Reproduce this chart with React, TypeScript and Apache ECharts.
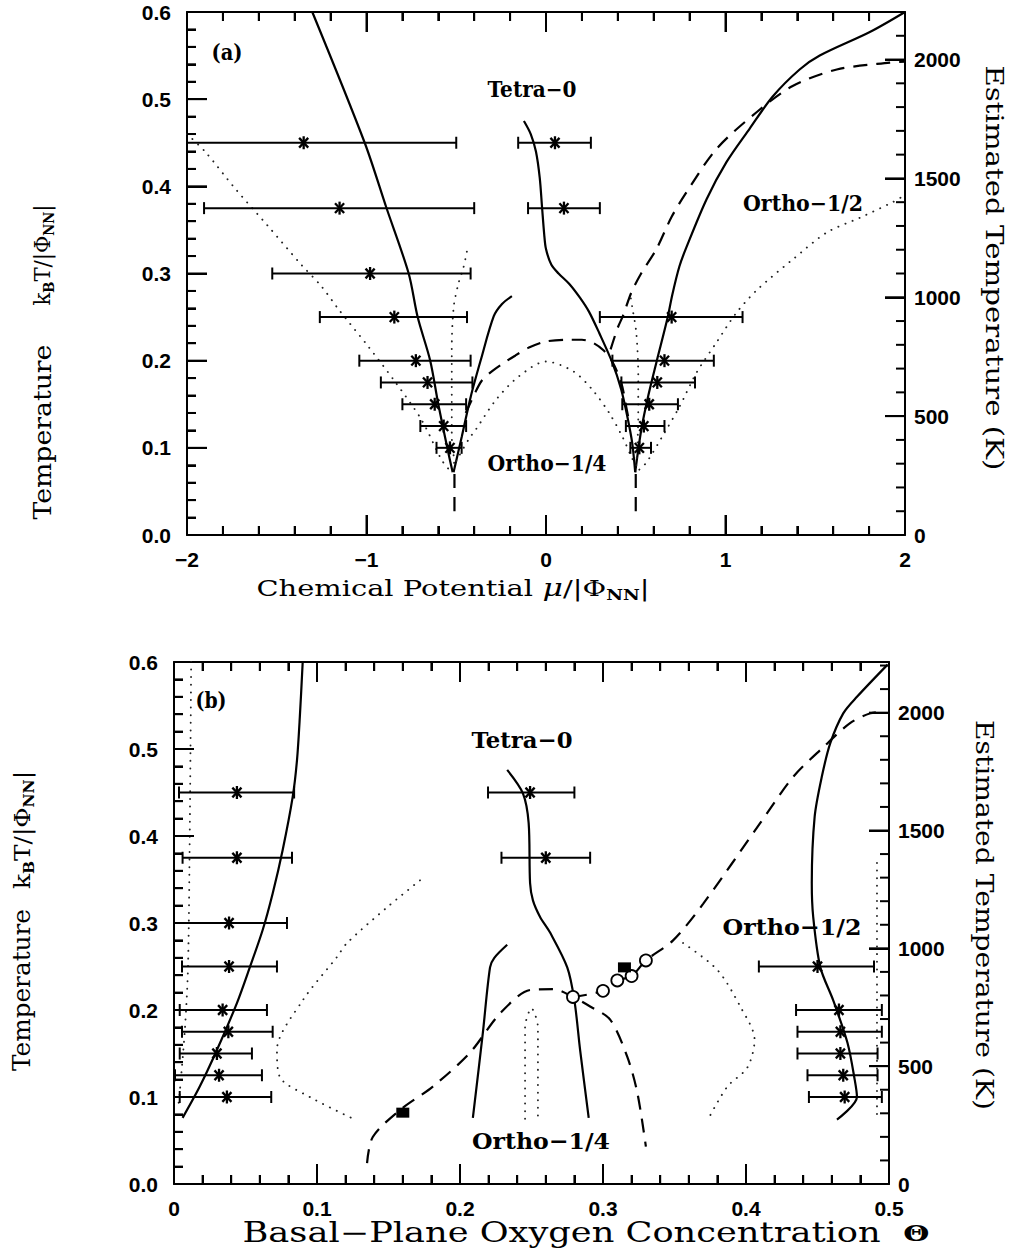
import React, { useEffect, useRef } from "react";
import * as echarts from "echarts";

// ---------------- Panel (a): x = μ/|Φ_NN|, y = k_BT/|Φ_NN| ----------------
const aXRange = [-2, 2];
const yRange = [0, 0.6];
const kelvinLabels = [0, 500, 1000, 1500, 2000];
const aKelvinMax = 2200;
const bKelvinMax = 2215;

// error bars: [y, low, centre, high]
const aErrorBars = [
  [0.45, -2.0, -1.35, -0.5],
  [0.375, -1.905, -1.15, -0.4],
  [0.3, -1.525, -0.98, -0.42],
  [0.25, -1.26, -0.845, -0.44],
  [0.2, -1.04, -0.725, -0.42],
  [0.175, -0.92, -0.66, -0.41],
  [0.15, -0.8, -0.62, -0.445],
  [0.125, -0.7, -0.57, -0.445],
  [0.1, -0.61, -0.535, -0.47],
  [0.45, -0.155, 0.05, 0.25],
  [0.375, -0.1, 0.1, 0.3],
  [0.25, 0.3, 0.7, 1.095],
  [0.2, 0.37, 0.66, 0.935],
  [0.175, 0.42, 0.62, 0.83],
  [0.15, 0.425, 0.575, 0.735],
  [0.125, 0.445, 0.545, 0.66],
  [0.1, 0.47, 0.52, 0.585],
];

const aSolidLeft = [
  [-1.302, 0.6], [-1.01, 0.45], [-0.89, 0.376], [-0.765, 0.3], [-0.715, 0.25],
  [-0.645, 0.2], [-0.6, 0.15], [-0.55, 0.1], [-0.52, 0.072],
];
const aSolidLeftBranch = [
  [-0.515, 0.072], [-0.469, 0.113], [-0.419, 0.159], [-0.363, 0.201],
  [-0.291, 0.251], [-0.245, 0.265], [-0.19, 0.274],
];
const aSolidCentre = [
  [-0.123, 0.475], [-0.085, 0.46], [-0.056, 0.44], [-0.035, 0.41], [-0.022, 0.376],
  [-0.01, 0.345], [0.0, 0.328], [0.03, 0.31], [0.07, 0.3], [0.13, 0.288],
  [0.19, 0.272], [0.24, 0.256], [0.296, 0.232], [0.369, 0.198], [0.419, 0.167],
  [0.453, 0.136], [0.48, 0.106], [0.497, 0.072],
];
const aSolidRight = [
  [0.497, 0.072], [0.531, 0.121], [0.57, 0.16], [0.615, 0.198], [0.676, 0.248],
  [0.704, 0.276], [0.743, 0.308], [0.782, 0.33], [0.894, 0.385], [1.006, 0.428],
  [1.134, 0.466], [1.263, 0.503], [1.413, 0.534], [1.525, 0.55], [1.804, 0.577], [2.0, 0.6],
];
const aDashLeftStem = [[-0.51, 0.07], [-0.51, 0.022]];
const aDashRightStem = [[0.5, 0.07], [0.5, 0.022]];
const aDashDome = [
  [-0.447, 0.14], [-0.4, 0.161], [-0.358, 0.177], [-0.3, 0.188], [-0.246, 0.196],
  [-0.17, 0.206], [-0.095, 0.215], [0.0, 0.222], [0.128, 0.224], [0.2, 0.224],
  [0.257, 0.221], [0.32, 0.212], [0.369, 0.199], [0.419, 0.175], [0.447, 0.147], [0.464, 0.129],
];
const aDashRise = [
  [0.36, 0.213], [0.4, 0.238], [0.43, 0.252], [0.475, 0.278], [0.53, 0.3],
  [0.615, 0.328], [0.7, 0.365], [0.782, 0.393], [0.95, 0.443], [1.173, 0.485],
  [1.374, 0.515], [1.62, 0.534], [1.916, 0.542], [2.0, 0.543],
];
const aDotLeftOuter = [
  [-2.0, 0.46], [-1.9, 0.44], [-1.73, 0.397], [-1.547, 0.354], [-1.363, 0.31],
  [-1.25, 0.285], [-1.156, 0.259], [-0.989, 0.216], [-0.838, 0.175], [-0.693, 0.132],
  [-0.581, 0.086], [-0.54, 0.075],
];
const aDotLeftInner = [
  [-0.441, 0.325], [-0.462, 0.305], [-0.486, 0.29], [-0.514, 0.262], [-0.525, 0.213],
  [-0.525, 0.155], [-0.525, 0.113], [-0.514, 0.09], [-0.51, 0.075],
];
const aDotDome = [
  [-0.5, 0.085], [-0.43, 0.11], [-0.391, 0.121], [-0.279, 0.155], [-0.151, 0.182],
  [0.0, 0.199], [0.15, 0.188], [0.257, 0.167], [0.352, 0.14], [0.425, 0.113],
  [0.475, 0.09], [0.5, 0.08],
];
const aDotRightInner = [
  [0.503, 0.08], [0.514, 0.136], [0.514, 0.182], [0.503, 0.232], [0.48, 0.262], [0.47, 0.275],
];
const aDotRightOuter = [
  [0.52, 0.075], [0.559, 0.083], [0.648, 0.113], [0.743, 0.147], [0.838, 0.186],
  [0.95, 0.221], [1.061, 0.255], [1.18, 0.282], [1.374, 0.316], [1.564, 0.347],
  [1.749, 0.364], [1.933, 0.382], [2.0, 0.39],
];

// ---------------- Panel (b): x = Θ, y = k_BT/|Φ_NN| ----------------
const bXRange = [0, 0.5];
const bErrorBars = [
  [0.45, 0.0035, 0.044, 0.084],
  [0.375, 0.006, 0.044, 0.0825],
  [0.3, 0.0, 0.0385, 0.079],
  [0.25, 0.0056, 0.0385, 0.072],
  [0.2, 0.004, 0.034, 0.065],
  [0.175, 0.0056, 0.038, 0.069],
  [0.15, 0.004, 0.03, 0.0545],
  [0.125, 0.0007, 0.0315, 0.0615],
  [0.1, 0.004, 0.037, 0.068],
  [0.45, 0.2196, 0.249, 0.28],
  [0.375, 0.229, 0.26, 0.291],
  [0.25, 0.409, 0.45, 0.4895],
  [0.2, 0.435, 0.465, 0.495],
  [0.175, 0.436, 0.466, 0.495],
  [0.15, 0.436, 0.466, 0.492],
  [0.125, 0.443, 0.468, 0.492],
  [0.1, 0.444, 0.469, 0.495],
];
const bSolidLeft = [
  [0.09, 0.6], [0.088, 0.537], [0.086, 0.487], [0.083, 0.445], [0.076, 0.384],
  [0.069, 0.334], [0.062, 0.292], [0.053, 0.249], [0.044, 0.208], [0.03, 0.154],
  [0.018, 0.112], [0.006, 0.076],
];
const bSolidTetra = [
  [0.233, 0.476], [0.244, 0.449], [0.248, 0.415], [0.249, 0.346], [0.251, 0.326],
  [0.256, 0.307], [0.263, 0.289], [0.275, 0.249], [0.28, 0.211], [0.284, 0.154], [0.29, 0.076],
];
const bSolidInner = [
  [0.209, 0.076], [0.216, 0.174], [0.221, 0.249], [0.224, 0.26], [0.233, 0.275],
];
const bSolidRight = [
  [0.4636, 0.074], [0.4776, 0.1], [0.476, 0.12], [0.471, 0.162], [0.461, 0.211],
  [0.452, 0.249], [0.447, 0.307], [0.446, 0.346], [0.448, 0.422], [0.453, 0.468],
  [0.459, 0.507], [0.468, 0.541], [0.4776, 0.56], [0.499, 0.597],
];
const bDashMain = [
  [0.135, 0.024], [0.139, 0.054], [0.158, 0.085], [0.181, 0.112], [0.207, 0.151],
  [0.228, 0.196], [0.249, 0.223], [0.265, 0.224], [0.279, 0.215], [0.291, 0.204],
  [0.305, 0.189], [0.317, 0.146], [0.324, 0.105], [0.33, 0.043],
];
const bDashRise = [
  [0.279, 0.215], [0.3, 0.222], [0.31, 0.234], [0.32, 0.239], [0.33, 0.257],
  [0.349, 0.28], [0.37, 0.322], [0.41, 0.415], [0.433, 0.468], [0.454, 0.502],
  [0.473, 0.53], [0.487, 0.541], [0.497, 0.543],
];
const bOpenCircles = [[0.279, 0.215], [0.3, 0.222], [0.31, 0.234], [0.32, 0.239], [0.33, 0.257]];
const bFilledSquares = [[0.16, 0.082], [0.315, 0.249]];
const bDotLeftEdge = [[0.012, 0.6], [0.011, 0.4], [0.0098, 0.25], [0.0077, 0.18], [0.004, 0.105], [0.003, 0.09]];
const bDotLeftV = [
  [0.172, 0.349], [0.149, 0.318], [0.121, 0.277], [0.114, 0.261], [0.09, 0.211],
  [0.072, 0.154], [0.074, 0.123], [0.095, 0.1], [0.124, 0.076],
];
const bDotCentre = [[0.2455, 0.075], [0.2455, 0.18], [0.25, 0.202], [0.2545, 0.18], [0.2545, 0.075]];
const bDotRightV = [
  [0.356, 0.277], [0.38, 0.246], [0.396, 0.204], [0.406, 0.166], [0.401, 0.134], [0.387, 0.112], [0.375, 0.079],
];
const bDotRightEdge = [[0.4916, 0.369], [0.4916, 0.08]];

// tick spacing: [min, max, minor step, minor steps per major]
const aXTickSpec = [-2, 2, 0.2, 5];
const bXTickSpec = [0, 0.5, 0.02, 5];
const yTickSpec = [0, 0.6, 0.02, 5];
const kelvinTickSpec = [0, 2200, 100, 5];

// ---------------- helpers ----------------
const SERIF = "DejaVu Serif";
const SANS = "Liberation Sans";
const MINUS = "\u2212";
const MAJOR = 20, MINOR = 9;

let measureCtx: CanvasRenderingContext2D | null = null;
function measure(t: string, font: string): number {
  if (!measureCtx) measureCtx = document.createElement("canvas").getContext("2d");
  measureCtx!.font = font;
  return measureCtx!.measureText(t).width;
}

type Piece = { t: string; size: number; weight?: string; style?: string; dy?: number };
function label(pieces: Piece[], cx: number, cy: number, len: number, rotation = 0) {
  let x = 0;
  const kids: any[] = [];
  for (const p of pieces) {
    const font = `${p.style || "normal"} ${p.weight || "normal"} ${p.size}px ${SERIF}`;
    const w = measure(p.t, font);
    kids.push({
      type: "text",
      x,
      y: p.dy || 0,
      style: { text: p.t, font, fill: "#000", align: "left", verticalAlign: "middle" },
    });
    x += w;
  }
  kids.forEach((k) => (k.x -= x / 2));
  return { type: "group", x: cx, y: cy, rotation, scaleX: len / x, children: kids };
}

const kTPieces = (size: number): Piece[] => [
  { t: "k", size },
  { t: "B", size: size * 0.62, weight: "bold", dy: 7 },
  { t: "T/|\u03A6", size },
  { t: "NN", size: size * 0.62, weight: "bold", dy: 7 },
  { t: "|", size },
];

const labelFont = () => ({ fontFamily: SANS, fontWeight: "bold" as const, fontSize: 21, color: "#000" });
const axisLine = () => ({ show: true, onZero: false, lineStyle: { color: "#000", width: 2 } });
const majorTick = () => ({ show: true, inside: true, length: MAJOR, lineStyle: { color: "#000", width: 2 } });
const minorTick = () => ({ show: true, splitNumber: 5, length: MINOR, lineStyle: { color: "#000", width: 2 } });

function xAxis(gridIndex: number, range: number[], interval: number, pos: string, fmt: (v: number) => string) {
  return {
    type: "value", gridIndex, min: range[0], max: range[1], interval, position: pos,
    axisLine: axisLine(), splitLine: { show: false },
    axisTick: majorTick(), minorTick: minorTick(),
    axisLabel: pos === "bottom" ? { ...labelFont(), margin: 14, formatter: fmt } : { show: false },
  };
}

function yAxes(gridIndex: number, kMax: number) {
  return [
    {
      type: "value", gridIndex, position: "left", min: yRange[0], max: yRange[1], interval: 0.1,
      axisLine: axisLine(), splitLine: { show: false },
      axisTick: majorTick(), minorTick: minorTick(),
      axisLabel: { ...labelFont(), margin: 16, formatter: (v: number) => v.toFixed(1) },
    },
    {
      type: "value", gridIndex, position: "right", min: 0, max: kMax, interval: 500,
      axisLine: axisLine(), splitLine: { show: false },
      axisTick: majorTick(), minorTick: { show: false },
      axisLabel: {
        ...labelFont(), margin: 9,
        formatter: (v: number) => (kelvinLabels.indexOf(v) >= 0 ? String(v) : ""),
      },
    },
  ];
}

type Kind = "solid" | "dash" | "dot";
function line(data: number[][], xi: number, yi: number, kind: Kind) {
  const ls: any =
    kind === "solid"
      ? { color: "#000", width: 2.2, type: "solid" }
      : kind === "dash"
      ? { color: "#000", width: 2.2, type: [14, 9] }
      : { color: "#222", width: 1.9, type: [0.1, 7.5], cap: "round" };
  return {
    type: "line", xAxisIndex: xi, yAxisIndex: yi, data, symbol: "none",
    smooth: 0.3, lineStyle: ls, silent: true, z: 3,
  };
}

const TL = (x1: number, y1: number, x2: number, y2: number, w = 2) => ({
  type: "line", shape: { x1, y1, x2, y2 }, style: { stroke: "#000", lineWidth: w },
});

function errRender(_p: any, api: any) {
  const y = api.value(0), lo = api.value(1), c = api.value(2), hi = api.value(3);
  const a = api.coord([lo, y]), m = api.coord([c, y]), b = api.coord([hi, y]);
  const cap = 6, s = 6.5;
  return {
    type: "group",
    children: [
      TL(a[0], a[1], b[0], b[1]),
      TL(a[0], a[1] - cap, a[0], a[1] + cap),
      TL(b[0], b[1] - cap, b[0], b[1] + cap),
      TL(m[0], m[1] - s, m[0], m[1] + s, 2.3),
      TL(m[0] - s * 0.7, m[1] - s * 0.75, m[0] + s * 0.7, m[1] + s * 0.75, 2.3),
      TL(m[0] - s * 0.7, m[1] + s * 0.75, m[0] + s * 0.7, m[1] - s * 0.75, 2.3),
    ],
  };
}
function errSeries(data: number[][], xi: number, yi: number) {
  return {
    type: "custom", xAxisIndex: xi, yAxisIndex: yi, data, renderItem: errRender,
    encode: { x: [1, 2, 3], y: 0 }, clip: true, silent: true, z: 4,
  };
}

function tickValues(spec: number[], major: boolean) {
  const [min, max, step, every] = spec;
  const n = Math.round((max - min) / step);
  const out: number[] = [];
  for (let i = 0; i <= n; i++) if ((i % every === 0) === major) out.push(+(min + i * step).toFixed(6));
  return out;
}
// tick marks built exactly like the error-bar series: rows [y, x, x, x]
function hTicks(values: number[], xAnchor: number, len: number, xi: number, yi: number) {
  return {
    type: "custom", xAxisIndex: xi, yAxisIndex: yi,
    data: values.map((v) => [v, xAnchor, xAnchor, xAnchor]),
    encode: { x: [1, 2, 3], y: 0 }, clip: true, silent: true, z: 4,
    renderItem: (_p: any, api: any) => {
      const p = api.coord([api.value(1), api.value(0)]);
      return { type: "group", children: [TL(p[0], p[1], p[0] + len, p[1])] };
    },
  };
}
function vTicks(values: number[], yAnchor: number, len: number, xi: number, yi: number) {
  return {
    type: "custom", xAxisIndex: xi, yAxisIndex: yi,
    data: values.map((v) => [yAnchor, v, v, v]),
    encode: { x: [1, 2, 3], y: 0 }, clip: true, silent: true, z: 4,
    renderItem: (_p: any, api: any) => {
      const p = api.coord([api.value(1), api.value(0)]);
      return { type: "group", children: [TL(p[0], p[1], p[0], p[1] + len)] };
    },
  };
}
function panelTicks(xSpec: number[], xr: number[], xi: number, yi: number, ki: number) {
  const out: any[] = [];
  for (const major of [true, false]) {
    const L = major ? MAJOR : MINOR;
    const xs = tickValues(xSpec, major);
    out.push(vTicks(xs, yRange[0], -L, xi, yi));
    out.push(vTicks(xs, yRange[1], L, xi, yi));
    out.push(hTicks(tickValues(yTickSpec, major), xr[0], L, xi, yi));
    out.push(hTicks(tickValues(kelvinTickSpec, major), xr[1], -L, xi, ki));
  }
  return out;
}

export default function App() {
  const ref = useRef<HTMLDivElement>(null);
  useEffect(() => {
    document.body.style.margin = "0";
    const chart = echarts.init(ref.current!, null, { renderer: "svg" });
    const fmtA = (v: number) => (v < 0 ? MINUS + String(-v) : String(v));
    const fmtB = (v: number) => (v === 0 ? "0" : v.toFixed(1));
    const bold = (t: string, size: number): Piece[] => [{ t, size, weight: "bold" }];

    const option: any = {
      animation: false,
      backgroundColor: "#fff",
      grid: [
        { left: 187, top: 12, width: 718, height: 523 },
        { left: 174, top: 662, width: 715, height: 522 },
      ],
      // x: 0 (a bottom), 1 (a top), 2 (b bottom), 3 (b top)
      xAxis: [
        xAxis(0, aXRange, 1, "bottom", fmtA),
        xAxis(0, aXRange, 1, "top", fmtA),
        xAxis(1, bXRange, 0.1, "bottom", fmtB),
        xAxis(1, bXRange, 0.1, "top", fmtB),
      ],
      // y: 0 (a left), 1 (a Kelvin), 2 (b left), 3 (b Kelvin)
      yAxis: [...yAxes(0, aKelvinMax), ...yAxes(1, bKelvinMax)],
      series: [
        line(aSolidLeft, 0, 0, "solid"),
        line(aSolidLeftBranch, 0, 0, "solid"),
        line(aSolidCentre, 0, 0, "solid"),
        line(aSolidRight, 0, 0, "solid"),
        line(aDashLeftStem, 0, 0, "dash"),
        line(aDashRightStem, 0, 0, "dash"),
        line(aDashDome, 0, 0, "dash"),
        line(aDashRise, 0, 0, "dash"),
        line(aDotLeftOuter, 0, 0, "dot"),
        line(aDotLeftInner, 0, 0, "dot"),
        line(aDotDome, 0, 0, "dot"),
        line(aDotRightInner, 0, 0, "dot"),
        line(aDotRightOuter, 0, 0, "dot"),
        errSeries(aErrorBars, 0, 0),
        ...panelTicks(aXTickSpec, aXRange, 0, 0, 1),

        line(bSolidLeft, 2, 2, "solid"),
        line(bSolidTetra, 2, 2, "solid"),
        line(bSolidInner, 2, 2, "solid"),
        line(bSolidRight, 2, 2, "solid"),
        line(bDashMain, 2, 2, "dash"),
        line(bDashRise, 2, 2, "dash"),
        line(bDotLeftEdge, 2, 2, "dot"),
        line(bDotLeftV, 2, 2, "dot"),
        line(bDotCentre, 2, 2, "dot"),
        line(bDotRightV, 2, 2, "dot"),
        line(bDotRightEdge, 2, 2, "dot"),
        errSeries(bErrorBars, 2, 2),
        ...panelTicks(bXTickSpec, bXRange, 2, 2, 3),
        {
          type: "scatter", xAxisIndex: 2, yAxisIndex: 2, data: bOpenCircles, symbol: "circle",
          symbolSize: 12, itemStyle: { color: "#fff", borderColor: "#000", borderWidth: 1.8, opacity: 1 },
          z: 5, silent: true,
        },
        {
          type: "scatter", xAxisIndex: 2, yAxisIndex: 2, data: bFilledSquares, symbol: "rect",
          symbolSize: [13, 10], itemStyle: { color: "#000", opacity: 1 }, z: 5, silent: true,
        },
      ],
      graphic: [
        label(bold("(a)", 23), 227, 52, 31),
        label(bold("Tetra" + MINUS + "0", 22), 532, 89, 89),
        label(bold("Ortho" + MINUS + "1/2", 22), 803, 203, 120),
        label(bold("Ortho" + MINUS + "1/4", 22), 547, 463, 119),
        label(bold("(b)", 23), 211, 700, 31),
        label(bold("Tetra" + MINUS + "0", 23), 522, 740, 101),
        label(bold("Ortho" + MINUS + "1/2", 23), 792, 927, 139),
        label(bold("Ortho" + MINUS + "1/4", 23), 541, 1141, 138),

        label([{ t: "Temperature", size: 24 }], 42, 432, 175, Math.PI / 2),
        label(kTPieces(23), 42, 255, 101, Math.PI / 2),
        label([{ t: "Temperature", size: 24 }], 22, 990, 162, Math.PI / 2),
        label(kTPieces(23), 22, 830, 118, Math.PI / 2),

        label([{ t: "Estimated Temperature (K)", size: 25 }], 995, 268, 405, -Math.PI / 2),
        label([{ t: "Estimated Temperature (K)", size: 25 }], 985, 915, 390, -Math.PI / 2),

        label(
          [
            { t: "Chemical Potential ", size: 22 },
            { t: "\u03BC", size: 24, style: "italic" },
            { t: "/|\u03A6", size: 22 },
            { t: "NN", size: 14, weight: "bold", dy: 7 },
            { t: "|", size: 22 },
          ],
          453, 588, 393
        ),
        label(
          [
            { t: "Basal" + MINUS + "Plane Oxygen Concentration  ", size: 27 },
            { t: "\u0398", size: 23, weight: "bold" },
          ],
          586, 1233, 687
        ),
      ],
    };
    chart.setOption(option);
    return () => chart.dispose();
  }, []);
  return <div ref={ref} style={{ width: 1010, height: 1249 }} />;
}
